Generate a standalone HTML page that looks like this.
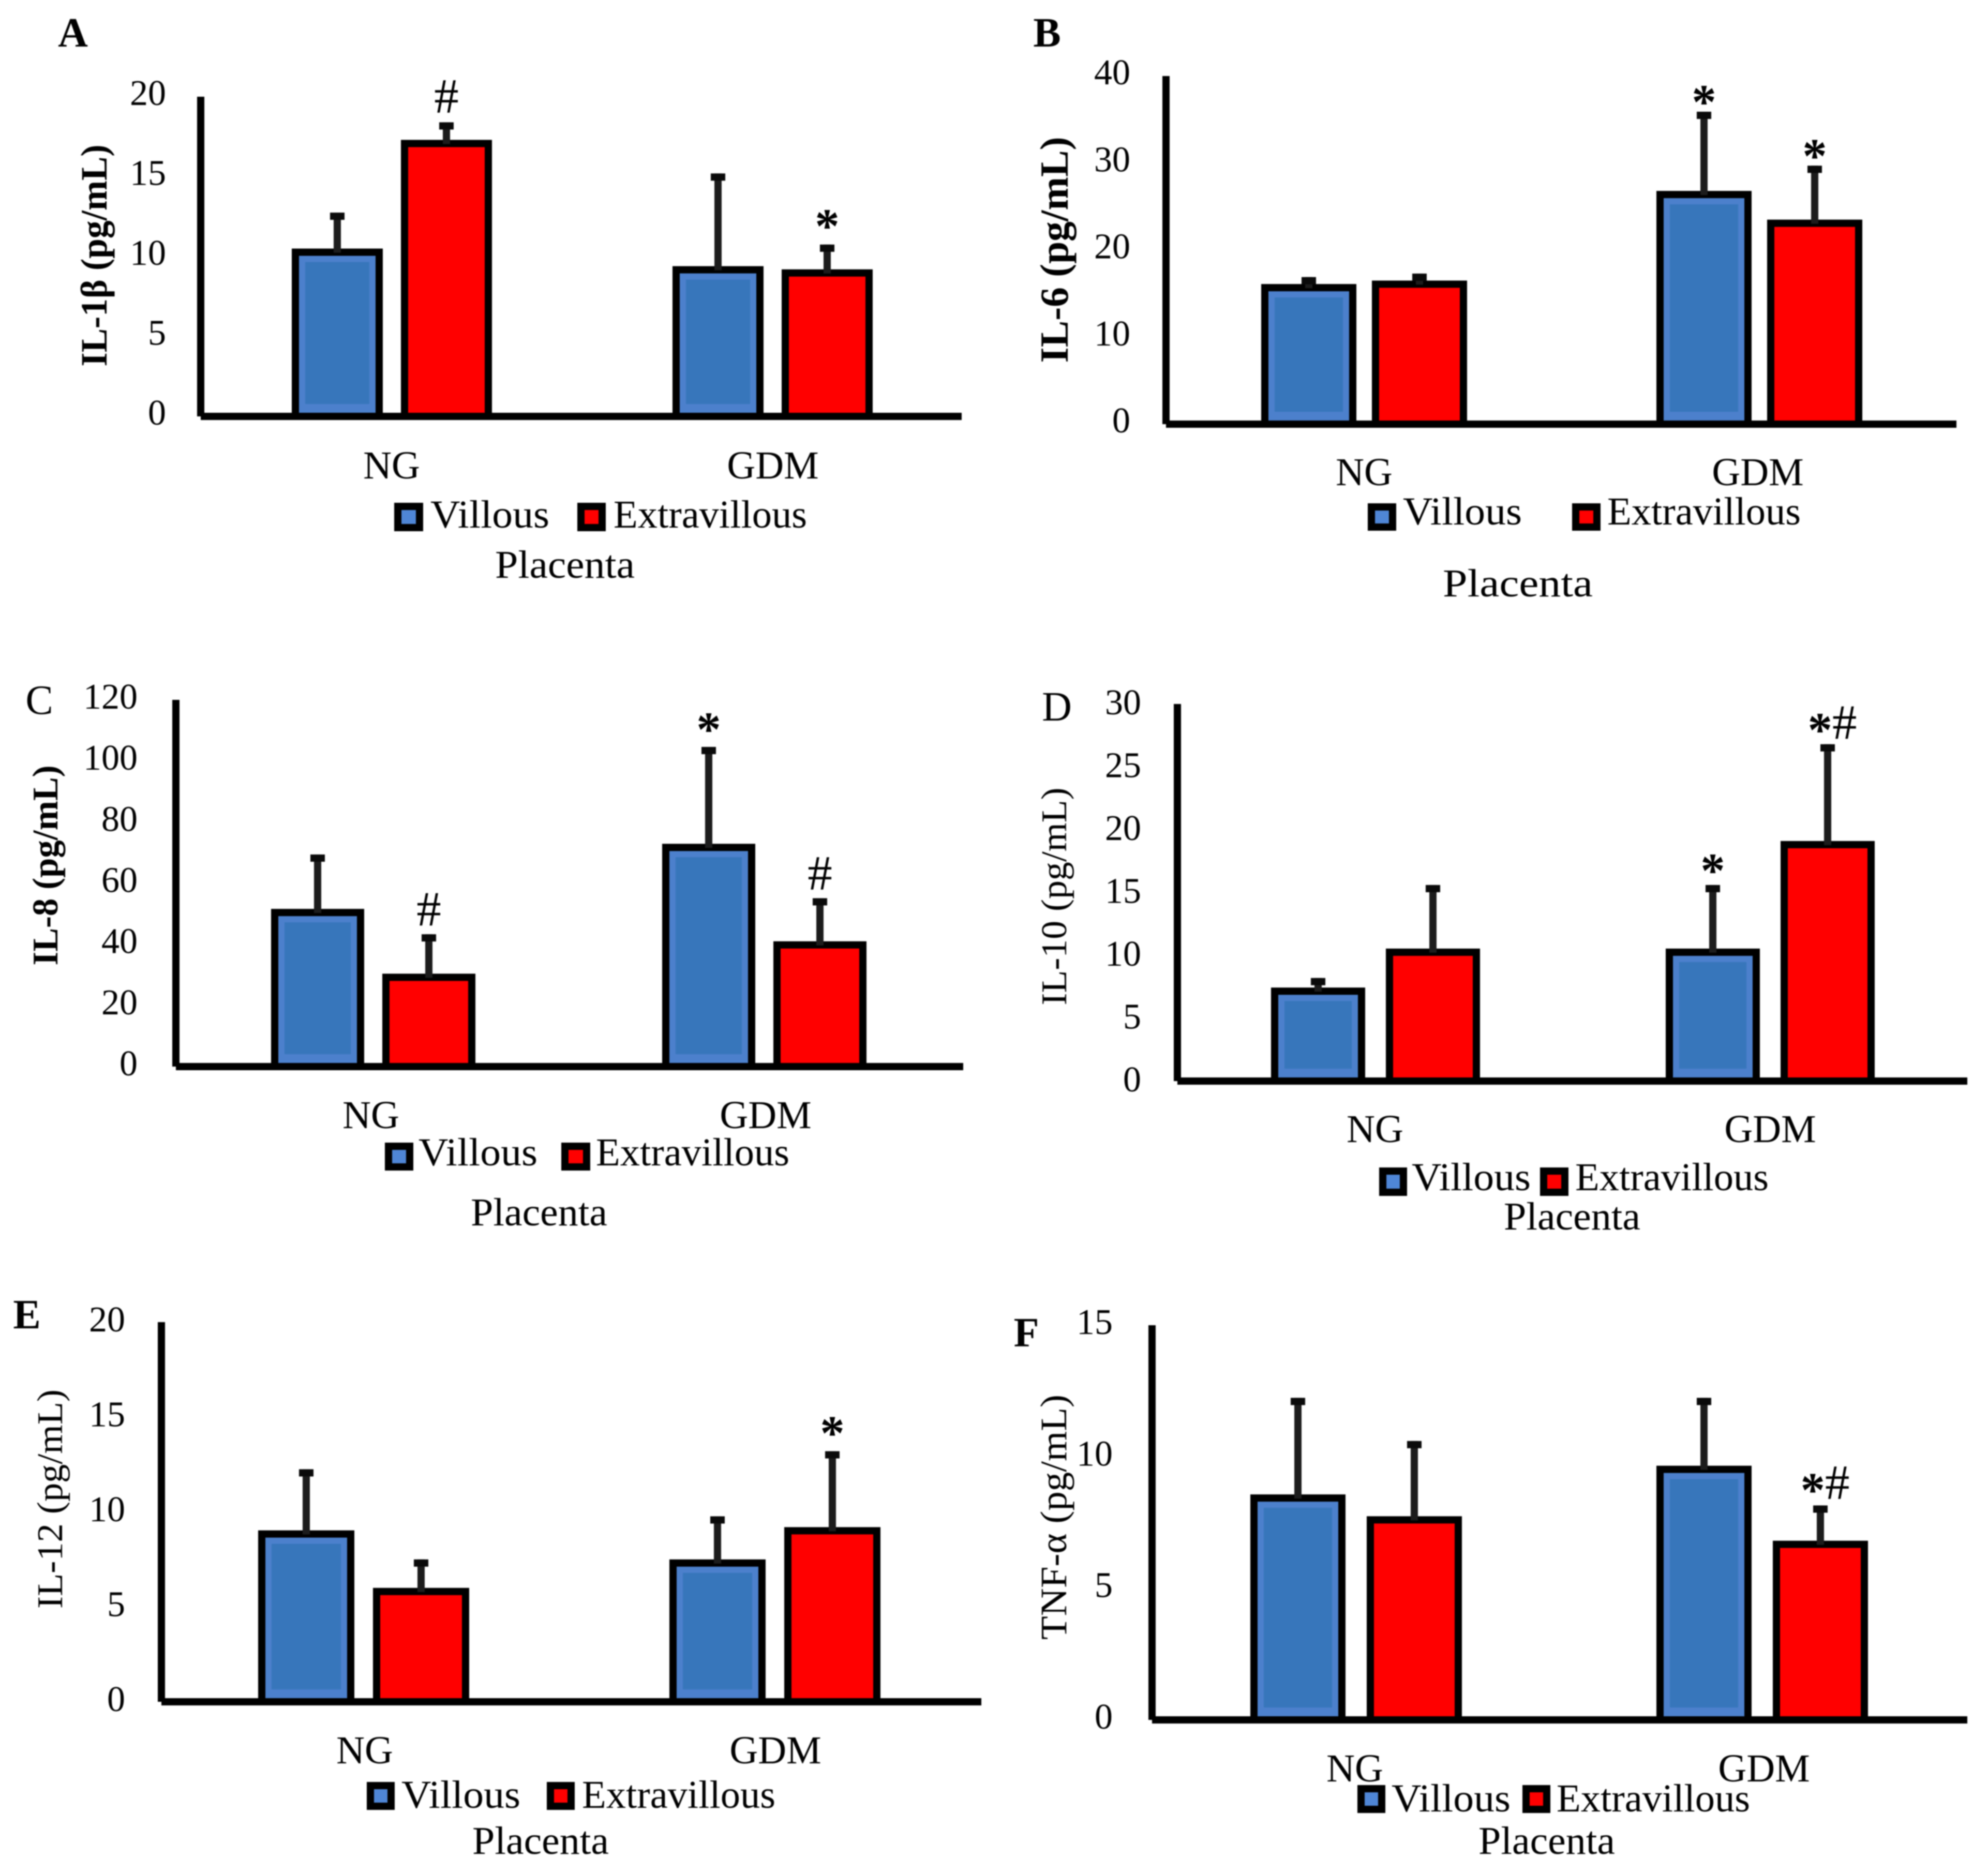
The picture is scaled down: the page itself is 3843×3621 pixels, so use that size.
<!DOCTYPE html>
<html lang="en">
<head>
<meta charset="utf-8">
<title>Placental cytokine bar charts</title>
<style>
  html, body { margin: 0; padding: 0; background: #fff; }
  svg { display: block; filter: blur(1.3px); }
  text { font-family: "Liberation Serif", "DejaVu Serif", serif; fill: #000; }
  .tick { font-size: 70px; }
  .cat, .leg, .xt { font-size: 76px; }
  .yt { text-anchor: middle; }
  .xt { text-anchor: middle; }
  .let { font-size: 80px; text-anchor: middle; }
  .b { font-weight: bold; }
</style>
</head>
<body>
<svg id="fig" xmlns="http://www.w3.org/2000/svg" width="3843" height="3621" viewBox="0 0 3843 3621">
  <rect width="3843" height="3621" fill="#fff"/>

  <g>
    <text class="let b" x="141" y="90">A</text>
    <text class="yt b" font-size="72" textLength="429" lengthAdjust="spacingAndGlyphs" transform="rotate(-90 194 494)" x="194" y="506">IL-1β (pg/mL)</text>
    <rect x="769" y="979" width="42" height="41" fill="#4f86d6" stroke="#000" stroke-width="14"/>
    <text class="leg" x="832" y="1020" textLength="230" lengthAdjust="spacingAndGlyphs">Villous</text>
    <rect x="1123" y="979" width="41" height="41" fill="#f00" stroke="#000" stroke-width="14"/>
    <text class="leg" x="1186" y="1020" textLength="374" lengthAdjust="spacingAndGlyphs">Extravillous</text>
    <text class="xt" x="1092" y="1117" textLength="270" lengthAdjust="spacingAndGlyphs">Placenta</text>
  </g>

  <g>
    <text class="let b" x="2024" y="90">B</text>
    <text class="yt b" font-size="77" textLength="437" lengthAdjust="spacingAndGlyphs" transform="rotate(-90 2051 483)" x="2051" y="496">IL-6 (pg/mL)</text>
    <rect x="2651" y="980" width="41" height="39" fill="#4f86d6" stroke="#000" stroke-width="14"/>
    <text class="leg" x="2712" y="1014" textLength="230" lengthAdjust="spacingAndGlyphs">Villous</text>
    <rect x="3046" y="980" width="41" height="39" fill="#f00" stroke="#000" stroke-width="14"/>
    <text class="leg" x="3107" y="1014" textLength="374" lengthAdjust="spacingAndGlyphs">Extravillous</text>
    <text class="xt" x="2934" y="1153" textLength="290" lengthAdjust="spacingAndGlyphs">Placenta</text>
  </g>

  <g>
    <text class="let" x="76" y="1380">C</text>
    <text class="yt b" font-size="70" textLength="387" lengthAdjust="spacingAndGlyphs" transform="rotate(-90 99 1673)" x="99" y="1685">IL-8 (pg/mL)</text>
    <rect x="751" y="2216" width="41" height="40" fill="#4f86d6" stroke="#000" stroke-width="14"/>
    <text class="leg" x="809" y="2253" textLength="230" lengthAdjust="spacingAndGlyphs">Villous</text>
    <rect x="1092" y="2216" width="42" height="40" fill="#f00" stroke="#000" stroke-width="14"/>
    <text class="leg" x="1152" y="2253" textLength="374" lengthAdjust="spacingAndGlyphs">Extravillous</text>
    <text class="xt" x="1042" y="2369" textLength="264" lengthAdjust="spacingAndGlyphs">Placenta</text>
  </g>

  <g>
    <text class="let" x="2043" y="1393">D</text>
    <text class="yt" font-size="70" textLength="421" lengthAdjust="spacingAndGlyphs" transform="rotate(-90 2049 1733)" x="2049" y="1745">IL-10 (pg/mL)</text>
    <rect x="2673" y="2264" width="40" height="41" fill="#4f86d6" stroke="#000" stroke-width="14"/>
    <text class="leg" x="2729" y="2301" textLength="230" lengthAdjust="spacingAndGlyphs">Villous</text>
    <rect x="2984" y="2264" width="41" height="41" fill="#f00" stroke="#000" stroke-width="14"/>
    <text class="leg" x="3045" y="2301" textLength="374" lengthAdjust="spacingAndGlyphs">Extravillous</text>
    <text class="xt" x="3039" y="2377" textLength="264" lengthAdjust="spacingAndGlyphs">Placenta</text>
  </g>

  <g>
    <text class="let b" x="52" y="2568">E</text>
    <text class="yt" font-size="70" textLength="424" lengthAdjust="spacingAndGlyphs" transform="rotate(-90 108 2898)" x="108" y="2910">IL-12 (pg/mL)</text>
    <rect x="716" y="3452" width="40" height="40" fill="#4f86d6" stroke="#000" stroke-width="14"/>
    <text class="leg" x="776" y="3495" textLength="230" lengthAdjust="spacingAndGlyphs">Villous</text>
    <rect x="1064" y="3452" width="40" height="40" fill="#f00" stroke="#000" stroke-width="14"/>
    <text class="leg" x="1125" y="3495" textLength="374" lengthAdjust="spacingAndGlyphs">Extravillous</text>
    <text class="xt" x="1045" y="3584" textLength="264" lengthAdjust="spacingAndGlyphs">Placenta</text>
  </g>

  <g>
    <text class="let b" x="1984" y="2603">F</text>
    <text class="yt" font-size="72" textLength="474" lengthAdjust="spacingAndGlyphs" transform="rotate(-90 2049 2933)" x="2049" y="2945">TNF-α (pg/mL)</text>
    <rect x="2631" y="3458" width="40" height="40" fill="#4f86d6" stroke="#000" stroke-width="14"/>
    <text class="leg" x="2690" y="3502" textLength="230" lengthAdjust="spacingAndGlyphs">Villous</text>
    <rect x="2950" y="3458" width="40" height="40" fill="#f00" stroke="#000" stroke-width="14"/>
    <text class="leg" x="3009" y="3502" textLength="374" lengthAdjust="spacingAndGlyphs">Extravillous</text>
    <text class="xt" x="2990" y="3584" textLength="264" lengthAdjust="spacingAndGlyphs">Placenta</text>
  </g>
</svg>

<script>
// Shared categories
const categories = ['NG', 'GDM'];

// Panel A: IL-1beta
const ticksA = [0, 5, 10, 15, 20];
const villousA = [10.5, 9.4];
const extraA = [17.3, 9.2];
const villousErrTopA = [12.75, 15.2];
const extraErrTopA = [18.4, 10.75];

// Panel B: IL-6
const ticksB = [0, 10, 20, 30, 40];
const villousB = [16.1, 26.8];
const extraB = [16.5, 23.5];
const villousErrTopB = [16.9, 35.9];
const extraErrTopB = [17.3, 29.7];

// Panel C: IL-8
const ticksC = [0, 20, 40, 60, 80, 100, 120];
const villousC = [51.6, 72.9];
const extraC = [30.4, 41];
const villousErrTopC = [69.4, 104.6];
const extraErrTopC = [43.3, 55.1];

// Panel D: IL-10
const ticksD = [0, 5, 10, 15, 20, 25, 30];
const villousD = [7.44, 10.54];
const extraD = [10.54, 19.1];
const villousErrTopD = [8.2, 15.6];
const extraErrTopD = [15.6, 26.8];

// Panel E: IL-12
const ticksE = [0, 5, 10, 15, 20];
const villousE = [9.03, 7.5];
const extraE = [6.0, 9.2];
const villousErrTopE = [12.25, 9.77];
const extraErrTopE = [7.5, 13.2];

// Panel F: TNF-alpha
const ticksF = [0, 5, 10, 15];
const villousF = [8.57, 9.66];
const extraF = [7.74, 6.81];
const villousErrTopF = [12.24, 12.24];
const extraErrTopF = [10.6, 8.15];

// Significance marks: [category index, series index (0 villous, 1 extravillous), symbol]
const marksA = [[0, 1, '#'], [1, 1, '*']];
const marksB = [[1, 0, '*'], [1, 1, '*']];
const marksC = [[0, 1, '#'], [1, 0, '*'], [1, 1, '#']];
const marksD = [[1, 0, '*'], [1, 1, '*#']];
const marksE = [[1, 1, '*']];
const marksF = [[1, 1, '*#']];

const panels = [
  { id: 'a', axisX: 388, top: 187, base: 805, right: 1859, g0: 564, gStep: 736, bStep: 211, barW: 176, labelRight: 321, labelDy: -8, markDy: 50, catY: 925, cat0: 757, cat1: 1494, ticks: ticksA, series: [villousA, extraA], errs: [villousErrTopA, extraErrTopA], marks: marksA },
  { id: 'b', axisX: 2254, top: 147, base: 820, right: 3782, g0: 2438, gStep: 764, bStep: 214, barW: 184, labelRight: 2185, labelDy: -8, markDy: 33, catY: 938, cat0: 2637, cat1: 3398, ticks: ticksB, series: [villousB, extraB], errs: [villousErrTopB, extraErrTopB], marks: marksB },
  { id: 'c', axisX: 340, top: 1353, base: 2062, right: 1862, g0: 524, gStep: 756, bStep: 215, barW: 180, labelRight: 266, labelDy: -7, markDy: 48, catY: 2181, cat0: 717, cat1: 1480, ticks: ticksC, series: [villousC, extraC], errs: [villousErrTopC, extraErrTopC], marks: marksC },
  { id: 'd', axisX: 2276, top: 1361, base: 2090, right: 3803, g0: 2457, gStep: 763, bStep: 222, barW: 182, labelRight: 2206, labelDy: -4, markDy: 42, catY: 2208, cat0: 2658, cat1: 3422, ticks: ticksD, series: [villousD, extraD], errs: [villousErrTopD, extraErrTopD], marks: marksD },
  { id: 'e', axisX: 312, top: 2556, base: 3290, right: 1897, g0: 499, gStep: 795, bStep: 222, barW: 186, labelRight: 242, labelDy: -6, markDy: 49, catY: 3409, cat0: 705, cat1: 1499, ticks: ticksE, series: [villousE, extraE], errs: [villousErrTopE, extraErrTopE], marks: marksE },
  { id: 'f', axisX: 2227, top: 2562, base: 3325, right: 3803, g0: 2417, gStep: 785, bStep: 225, barW: 184, labelRight: 2151, labelDy: -7, markDy: 44, catY: 3444, cat0: 2619, cat1: 3410, ticks: ticksF, series: [villousF, extraF], errs: [villousErrTopF, extraErrTopF], marks: marksF }
];

const SVG_NS = 'http://www.w3.org/2000/svg';
const fig = document.getElementById('fig');
const SW = 14;

function make(tag, attrs, parent) {
  const el = document.createElementNS(SVG_NS, tag);
  for (const k in attrs) el.setAttribute(k, attrs[k]);
  parent.appendChild(el);
  return el;
}

function yScale(p, v) {
  const max = p.ticks[p.ticks.length - 1];
  return p.base - (v / max) * (p.base - p.top);
}

function barLeft(p, c, s) {
  return p.g0 + c * p.gStep + s * p.bStep;
}

function drawPanel(p) {
  const g = make('g', {}, fig);
  
  

  p.series.forEach(function (vals, s) {
    vals.forEach(function (v, c) {
      const x = barLeft(p, c, s);
      const cx = x + p.barW / 2;
      const yTop = yScale(p, v);
      const yErr = yScale(p, p.errs[s][c]);

      const bar = make('rect', {
        x: x + SW / 2, y: yTop + SW / 2,
        width: p.barW - SW, height: Math.max(0, p.base - yTop - SW / 2),
        fill: s === 0 ? '#4c80cc' : '#ff0000',
        stroke: '#000', 'stroke-width': SW
      }, g);
      
      

      if (s === 0) {
        const inner = make('rect', {
          x: x + SW + 12, y: yTop + SW + 12,
          width: p.barW - 2 * SW - 24, height: Math.max(0, p.base - yTop - SW - 36),
          fill: '#3776bb'
        }, g);
        
        
      }

      const stem = make('rect', { x: cx - 7, y: yErr, width: 14, height: Math.max(0, yTop - yErr + 8), fill: '#1c1c1c' }, g);
      
      

      const cap = make('rect', { x: cx - 14, y: yErr, width: 28, height: 14, fill: '#0a0a0a' }, g);
      
      
    });
  });

  const yAxis = make('rect', { x: p.axisX - SW / 2, y: p.top, width: SW, height: p.base - p.top, fill: '#000' }, g);
  
  

  const xAxis = make('rect', { x: p.axisX, y: p.base - SW / 2, width: p.right - p.axisX, height: SW, fill: '#000' }, g);
  
  

  p.ticks.forEach(function (t) {
    const lab = make('text', { class: 'tick', x: p.labelRight, y: yScale(p, t) + p.labelDy + 24, 'text-anchor': 'end' }, g);
    lab.textContent = String(t);
    
    
  });

  categories.forEach(function (name, c) {
    const lab = make('text', { class: 'cat', x: c === 0 ? p.cat0 : p.cat1, y: p.catY, 'text-anchor': 'middle' }, g);
    lab.textContent = name;
    
    
  });

  p.marks.forEach(function (m) {
    const c = m[0], s = m[1], sym = m[2];
    const cx = barLeft(p, c, s) + p.barW / 2 + (sym.length > 1 ? 9 : 0);
    const yCenter = yScale(p, p.errs[s][c]) - p.markDy;
    const mark = make('text', {
      x: cx, y: yCenter + (sym.charAt(0) === '#' ? 31 : 46),
      'text-anchor': 'middle',
      'font-size': 95
    }, g);
    
    
    Array.from(sym).forEach(function (ch, i) {
      const span = make('tspan', { 'font-weight': ch === '*' ? 'bold' : 'normal' }, mark);
      if (i > 0) span.setAttribute('dy', '-15');
      span.textContent = ch;
    });
  });
}

panels.forEach(drawPanel);
</script>
</body>
</html>
